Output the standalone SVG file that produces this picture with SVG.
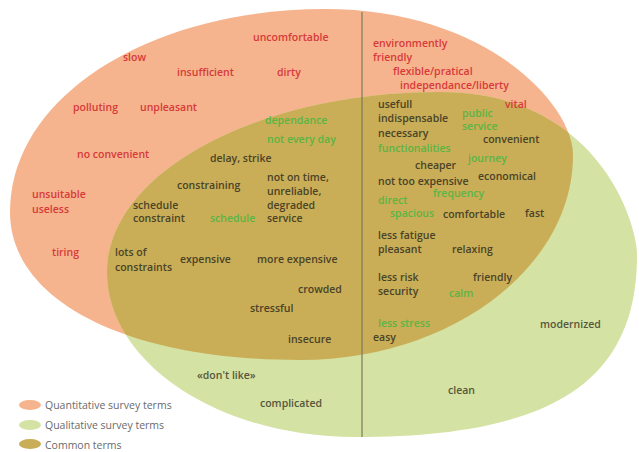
<svg xmlns="http://www.w3.org/2000/svg" xmlns:xlink="http://www.w3.org/1999/xlink" width="639" height="452" viewBox="0 0 639 452">
<style>
text{font-family:"Open Sans","Noto Sans","Liberation Sans",sans-serif;font-size:10.5px;font-weight:600}
.r{fill:#d8393a}
.g{fill:#5cb443}
.d{fill:#4a4327}
.q{fill:#57563c}
.lg{font-weight:400;fill:#6a6a6a}
.div{stroke:#7e7a58;stroke-width:1.2;fill:none}
</style>
<defs>
<path id="orangeShape" d="M10,212 C10,95 152,9 325,9 C486,9 573,104 573,155 C573,268 450,360 300,360 C126,360 10,301 10,212 Z"/>
<path id="greenShape" d="M107,272 C107,173 257,92 440,92 C598,92 637,223 637,255 C637,382 552,437 355,437 C219,437 107,363 107,272 Z"/>
<clipPath id="clipGreen"><use xlink:href="#greenShape"/></clipPath>
</defs>
<rect width="639" height="452" fill="#ffffff"/>
<g id="quantitative-set"><use xlink:href="#orangeShape" fill="#f5b48d"/></g>
<g id="qualitative-set"><use xlink:href="#greenShape" fill="#d4e2a3"/></g>
<g id="common-set"><use xlink:href="#orangeShape" fill="#c9ae57" clip-path="url(#clipGreen)"/></g>
<g id="connectors"><line class="div" x1="362" y1="12" x2="362" y2="437"/></g>
<g id="quantitative-terms">
<text class="r" x="253" y="41">uncomfortable</text>
<text class="r" x="123" y="61">slow</text>
<text class="r" x="177" y="76">insufficient</text>
<text class="r" x="277" y="76">dirty</text>
<text class="r" x="73" y="111">polluting</text>
<text class="r" x="140" y="111">unpleasant</text>
<text class="r" x="77" y="158">no convenient</text>
<text class="r" x="32" y="198">unsuitable</text>
<text class="r" x="32" y="213">useless</text>
<text class="r" x="52" y="256">tiring</text>
<text class="r" x="373" y="47">environmently</text>
<text class="r" x="373" y="61">friendly</text>
<text class="r" x="393" y="75">flexible/pratical</text>
<text class="r" x="400" y="89">independance/liberty</text>
<text class="r" x="505" y="108">vital</text>
</g>
<g id="common-terms">
<text class="g" x="265" y="124">dependance</text>
<text class="g" x="267" y="143">not every day</text>
<text class="d" x="210" y="162">delay, strike</text>
<text class="d" x="177" y="189">constraining</text>
<text class="d" x="267" y="181">not on time,</text>
<text class="d" x="267" y="195">unreliable,</text>
<text class="d" x="267" y="209">degraded</text>
<text class="d" x="267" y="222">service</text>
<text class="d" x="133" y="209">schedule</text>
<text class="d" x="133" y="222">constraint</text>
<text class="g" x="210" y="222">schedule</text>
<text class="d" x="115" y="256">lots of</text>
<text class="d" x="115" y="271">constraints</text>
<text class="d" x="180" y="263">expensive</text>
<text class="d" x="257" y="263">more expensive</text>
<text class="d" x="298" y="293">crowded</text>
<text class="d" x="250" y="312">stressful</text>
<text class="d" x="288" y="343">insecure</text>
<text class="d" x="378" y="108">usefull</text>
<text class="d" x="378" y="122">indispensable</text>
<text class="d" x="378" y="137">necessary</text>
<text class="g" x="462" y="117">public</text>
<text class="g" x="462" y="130">service</text>
<text class="d" x="483" y="143">convenient</text>
<text class="g" x="378" y="152">functionalities</text>
<text class="g" x="468" y="162">journey</text>
<text class="d" x="415" y="169">cheaper</text>
<text class="d" x="478" y="180">economical</text>
<text class="d" x="378" y="185">not too expensive</text>
<text class="g" x="433" y="197">frequency</text>
<text class="g" x="378" y="204">direct</text>
<text class="g" x="390" y="217">spacious</text>
<text class="d" x="443" y="218">comfortable</text>
<text class="d" x="525" y="217">fast</text>
<text class="d" x="378" y="239">less fatigue</text>
<text class="d" x="378" y="253">pleasant</text>
<text class="d" x="452" y="253">relaxing</text>
<text class="d" x="378" y="281">less risk</text>
<text class="d" x="378" y="295">security</text>
<text class="d" x="473" y="281">friendly</text>
<text class="g" x="449" y="297">calm</text>
<text class="g" x="378" y="327">less stress</text>
<text class="d" x="373" y="341">easy</text>
</g>
<g id="qualitative-terms">
<text class="q" x="197" y="379">«don't like»</text>
<text class="q" x="260" y="407">complicated</text>
<text class="q" x="540" y="328">modernized</text>
<text class="q" x="448" y="394">clean</text>
</g>
<g id="legend">
<g id="legend-quantitative"><ellipse cx="30" cy="405" rx="11" ry="5" fill="#f5b48d"/><text class="lg" x="45" y="409">Quantitative survey terms</text></g>
<g id="legend-qualitative"><ellipse cx="30" cy="425" rx="11" ry="5" fill="#d4e2a3"/><text class="lg" x="45" y="429">Qualitative survey terms</text></g>
<g id="legend-common"><ellipse cx="30" cy="444" rx="11" ry="5" fill="#c9ae57"/><text class="lg" x="45" y="449">Common terms</text></g>
</g>
</svg>
